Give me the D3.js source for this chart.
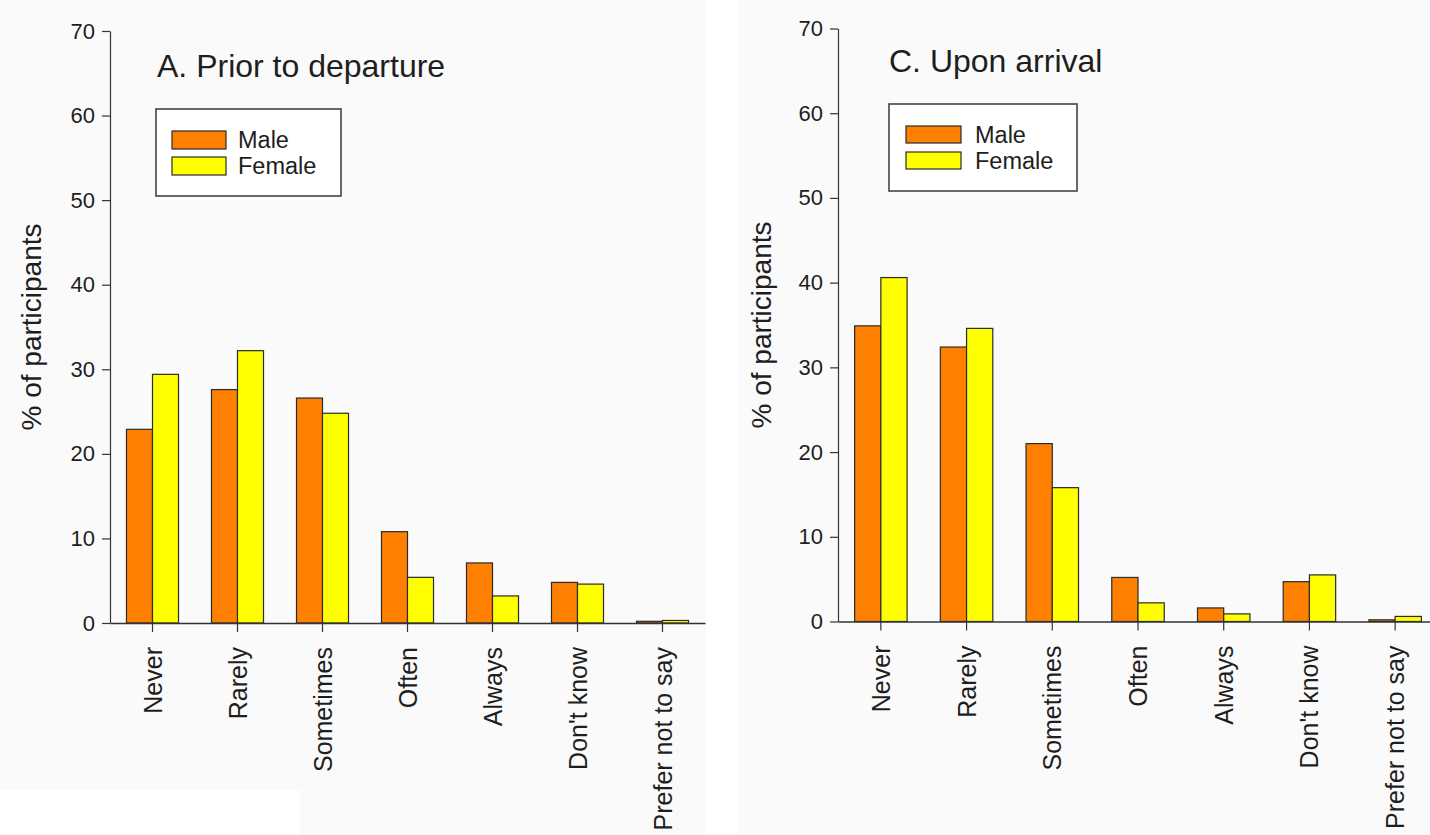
<!DOCTYPE html>
<html>
<head>
<meta charset="utf-8">
<script src="https://cdn.jsdelivr.net/npm/d3@7"></script>
<style>
  html, body { margin: 0; padding: 0; background: #ffffff; }
  svg { display: block; }
  text { font-family: "Liberation Sans", Arial, Helvetica, sans-serif; fill: #1e1e1e; }
</style>
</head>
<body>
<svg id="chart" width="1430" height="835"></svg>
<script>
// Response categories (x axis)
const categories = ["Never", "Rarely", "Sometimes", "Often", "Always", "Don't know", "Prefer not to say"];
const seriesNames = ["Male", "Female"];
const seriesColors = ["#ff7f00", "#ffff00"];

// % of participants, panel A: prior to departure
const departureMale   = [22.9, 27.6, 26.6, 10.8, 7.1, 4.8, 0.2];
const departureFemale = [29.4, 32.2, 24.8, 5.4, 3.2, 4.6, 0.3];

// % of participants, panel C: upon arrival
const arrivalMale   = [34.9, 32.4, 21.0, 5.2, 1.6, 4.7, 0.2];
const arrivalFemale = [40.6, 34.6, 15.8, 2.2, 0.9, 5.5, 0.6];

const yTicks = [0, 10, 20, 30, 40, 50, 60, 70];
const yLabel = "% of participants";

const svg = d3.select("#chart");

// faint grey panel backdrops
svg.append("path")
  .attr("d", "M0,0 H706 V835 H300 V790 H0 Z")
  .attr("fill", "#fafafa");
svg.append("rect")
  .attr("x", 738).attr("y", 0).attr("width", 692).attr("height", 835)
  .attr("fill", "#fafafa");

const panels = [
  {
    title: "A. Prior to departure",
    male: departureMale, female: departureFemale,
    x0: 110, x1: 705, yTop: 31, yBottom: 623,
    titleX: 157, titleY: 77,
    legend: { x: 156, y: 109, w: 185, h: 87, swX: 172, swW: 54, sw1: 131, sw2: 157, swH: 18, textX: 238 },
    yLabelX: 31
  },
  {
    title: "C. Upon arrival",
    male: arrivalMale, female: arrivalFemale,
    x0: 838, x1: 1438, yTop: 28.5, yBottom: 621.5,
    titleX: 889, titleY: 72,
    legend: { x: 889, y: 104, w: 188, h: 87, swX: 906, swW: 55, sw1: 126, sw2: 152, swH: 17, textX: 975 },
    yLabelX: 761
  }
];

panels.forEach(p => {
  const g = svg.append("g");

  const x = d3.scaleBand()
    .domain(categories)
    .range([p.x0, p.x1])
    .paddingInner(0.388)
    .paddingOuter(0.194);

  const xInner = d3.scaleBand()
    .domain(seriesNames)
    .range([0, x.bandwidth()]);

  const y = d3.scaleLinear()
    .domain([0, 70])
    .range([p.yBottom, p.yTop]);

  // bars
  const rows = categories.map((c, i) => ({ cat: c, values: [p.male[i], p.female[i]] }));
  const grp = g.selectAll("g.cat").data(rows).join("g")
    .attr("class", "cat")
    .attr("transform", d => `translate(${x(d.cat)},0)`);
  grp.selectAll("rect")
    .data(d => d.values.map((v, k) => ({ key: seriesNames[k], v, k })))
    .join("rect")
    .attr("x", d => xInner(d.key))
    .attr("width", xInner.bandwidth())
    .attr("y", d => y(d.v))
    .attr("height", d => y(0) - y(d.v))
    .attr("fill", d => seriesColors[d.k])
    .attr("stroke", "#2b2b2b")
    .attr("stroke-width", 1.2);

  // y axis
  const yAxis = d3.axisLeft(y).tickValues(yTicks).tickSize(8).tickPadding(7).tickSizeOuter(0);
  const ya = g.append("g").attr("transform", `translate(${p.x0},0)`).call(yAxis);
  ya.select(".domain").attr("stroke", "#333").attr("stroke-width", 1.2);
  ya.selectAll(".tick line").attr("stroke", "#333").attr("stroke-width", 1.2);
  ya.selectAll(".tick text")
    .style("font-family", '"Liberation Sans", Arial, sans-serif')
    .style("font-size", "22px").attr("fill", "#1e1e1e");

  // x axis
  const xAxis = d3.axisBottom(x).tickSize(9).tickSizeOuter(0).tickFormat("");
  const xa = g.append("g").attr("transform", `translate(0,${p.yBottom})`).call(xAxis);
  xa.select(".domain").attr("stroke", "#333").attr("stroke-width", 1.4);
  xa.selectAll(".tick line").attr("stroke", "#333").attr("stroke-width", 1.2);

  // rotated category labels
  g.selectAll("text.cat-label").data(categories).join("text")
    .attr("class", "cat-label")
    .attr("transform", d => `translate(${x(d) + x.bandwidth() / 2},${p.yBottom + 24}) rotate(-90)`)
    .attr("text-anchor", "end")
    .attr("dy", "0.36em")
    .style("font-size", "25px")
    .text(d => d);

  // y axis title
  g.append("text")
    .attr("transform", `translate(${p.yLabelX},${(p.yTop + p.yBottom) / 2}) rotate(-90)`)
    .attr("text-anchor", "middle")
    .attr("dy", "0.36em")
    .style("font-size", "28px")
    .text(yLabel);

  // panel title
  g.append("text")
    .attr("x", p.titleX).attr("y", p.titleY)
    .style("font-size", "32px")
    .text(p.title);

  // legend
  const L = p.legend;
  g.append("rect")
    .attr("x", L.x).attr("y", L.y).attr("width", L.w).attr("height", L.h)
    .attr("fill", "#ffffff").attr("stroke", "#444").attr("stroke-width", 1.6);
  [L.sw1, L.sw2].forEach((sy, k) => {
    g.append("rect")
      .attr("x", L.swX).attr("y", sy).attr("width", L.swW).attr("height", L.swH)
      .attr("fill", seriesColors[k]).attr("stroke", "#2b2b2b").attr("stroke-width", 1.2);
    g.append("text")
      .attr("x", L.textX).attr("y", sy + L.swH / 2)
      .attr("dy", "0.36em")
      .style("font-size", "23.5px")
      .text(seriesNames[k]);
  });
});
</script>
</body>
</html>
